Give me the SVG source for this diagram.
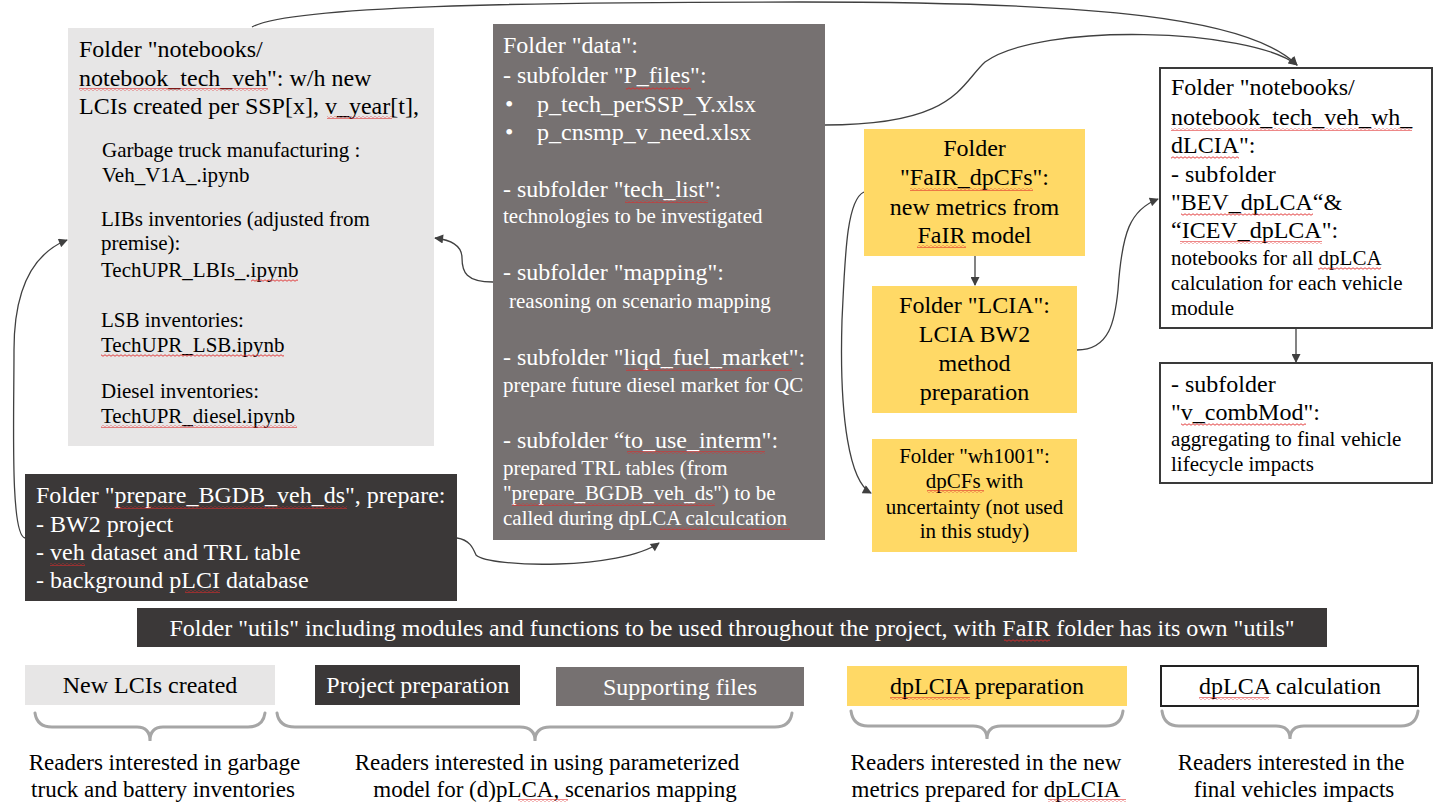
<svg xmlns="http://www.w3.org/2000/svg" width="1436" height="803" viewBox="0 0 1436 803">
<defs>
<marker id="ah" viewBox="0 0 10 10" refX="9" refY="5" markerWidth="11" markerHeight="9" markerUnits="userSpaceOnUse" orient="auto"><path d="M0,0 L10,5 L0,10 z" fill="#404040"/></marker>
<pattern id="wv" width="4" height="3" patternUnits="userSpaceOnUse"><path d="M0,1.5 Q1,0 2,1.5 T4,1.5" fill="none" stroke="#e02a2a" stroke-width="0.9"/></pattern>
<style>
text{font-family:"Liberation Serif","Times New Roman",serif;}
.b{font-size:24px;}
.s{font-size:21px;}
.k{fill:#000;}
.w{fill:#fff;}
.c{text-anchor:middle;}
.con{fill:none;stroke:#404040;stroke-width:1.3;}
.brace{fill:none;stroke:#a6a6a6;stroke-width:3;stroke-linecap:round;}
.sq{fill:url(#wv);}
</style>
</defs>
<rect width="1436" height="803" fill="#fff"/>

<g id="connectors">
<path class="con" d="M252,27 C290,6 520,2 800,2 C1100,2 1250,18 1297,65" marker-end="url(#ah)"/>
<path class="con" d="M825,125 C955,125 960,85 985,62 C1040,22 1250,28 1297,65" marker-end="url(#ah)"/>
<path class="con" d="M493,282 C466,282 462,272 462,258 C462,246 452,240 435,238" marker-end="url(#ah)"/>
<path class="con" d="M457,538 C470,540 473,548 476,555 C490,568 620,570 659,543" marker-end="url(#ah)"/>
<path class="con" d="M25,538 C10,535 14,420 14,350 C14,290 32,254 67,240" marker-end="url(#ah)"/>
<path class="con" d="M864,192 C846,200 845,260 842,320 C839,420 850,482 871,493" marker-end="url(#ah)"/>
<path class="con" d="M1077,350 C1110,350 1115,320 1118,290 C1122,232 1130,210 1158,199" marker-end="url(#ah)"/>
<path class="con" d="M975,256 L975,285" marker-end="url(#ah)"/>
<path class="con" d="M1296,328 L1296,362" marker-end="url(#ah)"/>
</g>

<g id="node-notebooks-tech-veh">
<rect x="68" y="28" width="366" height="418" fill="#e7e6e6"/>
<text class="b k" x="79" y="57">Folder "notebooks/</text>
<text class="b k" x="79" y="85.5">notebook_tech_veh": w/h new</text>
<text class="b k" x="79" y="114">LCIs created per SSP[x], v_year[t],</text>
<text class="s k" x="102" y="157">Garbage truck manufacturing :</text>
<text class="s k" x="102" y="182">Veh_V1A_.ipynb</text>
<text class="s k" x="101" y="226">LIBs inventories (adjusted from</text>
<text class="s k" x="101" y="250">premise):</text>
<text class="s k" x="101" y="277">TechUPR_LBIs_.ipynb</text>
<text class="s k" x="101" y="327">LSB inventories:</text>
<text class="s k" x="101" y="352">TechUPR_LSB.ipynb</text>
<text class="s k" x="101" y="398">Diesel inventories:</text>
<text class="s k" x="101" y="423">TechUPR_diesel.ipynb</text>
<rect class="sq" x="79" y="88" width="189" height="3"/>
<rect class="sq" x="327" y="116" width="65" height="3"/>
<rect class="sq" x="251" y="279" width="47" height="3"/>
<rect class="sq" x="101" y="354" width="183" height="3"/>
<rect class="sq" x="101" y="425" width="196" height="3"/>
</g>

<g id="node-data">
<rect x="493" y="24" width="332" height="516" fill="#767171"/>
<text class="b w" x="503" y="53">Folder "data":</text>
<text class="b w" x="503" y="83">- subfolder "P_files":</text>
<text class="b w" x="505" y="112">•</text><text class="b w" x="537" y="112">p_tech_perSSP_Y.xlsx</text>
<text class="b w" x="505" y="140">•</text><text class="b w" x="537" y="140">p_cnsmp_v_need.xlsx</text>
<text class="b w" x="503" y="197">- subfolder "tech_list":</text>
<text class="s w" x="503" y="223">technologies to be investigated</text>
<text class="b w" x="503" y="280">- subfolder "mapping":</text>
<text class="s w" x="509" y="308">reasoning on scenario mapping</text>
<text class="b w" x="503" y="365">- subfolder "liqd_fuel_market":</text>
<text class="s w" x="503" y="392">prepare future diesel market for QC</text>
<text class="b w" x="503" y="448">- subfolder “to_use_interm":</text>
<text class="s w" x="503" y="475">prepared TRL tables (from</text>
<text class="s w" x="503" y="500">"prepare_BGDB_veh_ds") to be</text>
<text class="s w" x="503" y="525">called during dpLCA calculcation</text>
<rect class="sq" x="626" y="87" width="65" height="3"/>
<rect class="sq" x="625" y="200" width="83" height="3"/>
<rect class="sq" x="626" y="368" width="166" height="3"/>
<rect class="sq" x="627" y="451" width="138" height="3"/>
<rect class="sq" x="512" y="503" width="203" height="3"/>
<rect class="sq" x="660" y="527" width="47" height="3"/>
<rect class="sq" x="710" y="527" width="80" height="3"/>
</g>

<g id="node-prepare">
<rect x="25" y="474" width="432" height="127" fill="#3b3838"/>
<text class="b w" x="36" y="503">Folder "prepare_BGDB_veh_ds", prepare:</text>
<text class="b w" x="36" y="532">- BW2 project</text>
<text class="b w" x="36" y="560">- veh dataset and TRL table</text>
<text class="b w" x="36" y="588">- background pLCI database</text>
<rect class="sq" x="115" y="506" width="232" height="3"/>
<rect class="sq" x="50" y="563" width="35" height="3"/>
<rect class="sq" x="185" y="590" width="35" height="3"/>
</g>

<g id="node-fair">
<rect x="864" y="129" width="221" height="127" fill="#ffd966"/>
<text class="b k c" x="974.5" y="156">Folder</text>
<text class="b k c" x="974.5" y="185">"FaIR_dpCFs":</text>
<text class="b k c" x="974.5" y="215">new metrics from</text>
<text class="b k c" x="974.5" y="243">FaIR model</text>
<rect class="sq" x="910" y="188" width="123" height="3"/>
<rect class="sq" x="917" y="245" width="49" height="3"/>
</g>

<g id="node-lcia">
<rect x="872" y="286" width="205" height="127" fill="#ffd966"/>
<text class="b k c" x="974.5" y="313">Folder "LCIA":</text>
<text class="b k c" x="974.5" y="342">LCIA BW2</text>
<text class="b k c" x="974.5" y="371">method</text>
<text class="b k c" x="974.5" y="400">preparation</text>
</g>

<g id="node-wh1001">
<rect x="872" y="439" width="205" height="113" fill="#ffd966"/>
<text class="s k c" x="974.5" y="463">Folder "wh1001":</text>
<text class="s k c" x="974.5" y="488">dpCFs with</text>
<text class="s k c" x="974.5" y="514">uncertainty (not used</text>
<text class="s k c" x="974.5" y="538">in this study)</text>
<rect class="sq" x="927" y="490" width="57" height="3"/>
</g>

<g id="node-dlcia">
<rect x="1160" y="68" width="272" height="260" fill="#fff" stroke="#3a3a3a" stroke-width="2"/>
<text class="b k" x="1171" y="95">Folder "notebooks/</text>
<text class="b k" x="1171" y="125">notebook_tech_veh_wh_</text>
<text class="b k" x="1171" y="153">dLCIA":</text>
<text class="b k" x="1171" y="182">- subfolder</text>
<text class="b k" x="1171" y="210">"BEV_dpLCA“&amp;</text>
<text class="b k" x="1171" y="238">“ICEV_dpLCA":</text>
<text class="s k" x="1171" y="265">notebooks for all dpLCA</text>
<text class="s k" x="1171" y="290">calculation for each vehicle</text>
<text class="s k" x="1171" y="315">module</text>
<rect class="sq" x="1171" y="128" width="241" height="3"/>
<rect class="sq" x="1171" y="156" width="68" height="3"/>
<rect class="sq" x="1181" y="213" width="132" height="3"/>
<rect class="sq" x="1180" y="241" width="142" height="3"/>
<rect class="sq" x="1318" y="267" width="63" height="3"/>
</g>

<g id="node-combmod">
<rect x="1160" y="363" width="272" height="120" fill="#fff" stroke="#3a3a3a" stroke-width="2"/>
<text class="b k" x="1171" y="392">- subfolder</text>
<text class="b k" x="1171" y="420">"v_combMod":</text>
<text class="s k" x="1171" y="446">aggregating to final vehicle</text>
<text class="s k" x="1171" y="471">lifecycle impacts</text>
<rect class="sq" x="1181" y="423" width="125" height="3"/>
</g>

<g id="node-utils">
<rect x="137" y="608" width="1190" height="39" fill="#3b3838"/>
<text class="w c" x="732" y="636" style="font-size:24px">Folder "utils" including modules and functions to be used throughout the project, with FaIR folder has its own "utils"</text>
<rect class="sq" x="1004" y="639" width="46" height="3"/>
</g>

<g id="legend">
<rect x="25" y="665" width="250" height="40" fill="#e7e6e6"/>
<text class="k c" x="150" y="693" style="font-size:24px">New LCIs created</text>
<rect x="315" y="665" width="205" height="40" fill="#3b3838"/>
<text class="w c" x="418" y="693" style="font-size:24px">Project preparation</text>
<rect x="556" y="667" width="248" height="39" fill="#767171"/>
<text class="w c" x="680" y="695" style="font-size:24px">Supporting files</text>
<rect x="847" y="666" width="280" height="40" fill="#ffd966"/>
<text class="k c" x="987" y="694" style="font-size:24px">dpLCIA preparation</text>
<rect x="1161" y="666" width="257" height="40" fill="#fff" stroke="#222" stroke-width="2"/>
<text class="k c" x="1290" y="694" style="font-size:24px">dpLCA calculation</text>
<rect class="sq" x="890" y="697" width="80" height="3"/>
<rect class="sq" x="1199" y="697" width="70" height="3"/>
</g>

<g id="braces">
<path class="brace" d="M35,713 Q37,727 52,727 L137,727 Q150,727 150,741 Q150,727 163,727 L248,727 Q263,727 265,713"/>
<path class="brace" d="M277,713 Q279,727 295,727 L520,727 Q535,727 535,741 Q535,727 550,727 L775,727 Q790,727 792,713"/>
<path class="brace" d="M851,711 Q853,726 868,726 L973,726 Q987,726 987,739 Q987,726 1001,726 L1106,726 Q1121,726 1123,711"/>
<path class="brace" d="M1162,711 Q1164,726 1179,726 L1276,726 Q1290,726 1290,739 Q1290,726 1304,726 L1401,726 Q1416,726 1418,711"/>
</g>

<g id="audience-notes">
<text class="k c" x="164.5" y="770" style="font-size:23px">Readers interested in garbage</text>
<text class="k c" x="163" y="797" style="font-size:23px">truck and battery inventories</text>
<text class="k c" x="547" y="770" style="font-size:23px">Readers interested in using parameterized</text>
<text class="k c" x="555" y="797" style="font-size:23px">model for (d)pLCA, scenarios mapping</text>
<text class="k c" x="986" y="770" style="font-size:23px">Readers interested in the new</text>
<text class="k c" x="986" y="797" style="font-size:23px">metrics prepared for dpLCIA</text>
<text class="k c" x="1291" y="770" style="font-size:23px">Readers interested in the</text>
<text class="k c" x="1294" y="797" style="font-size:23px">final vehicles impacts</text>
<rect class="sq" x="518" y="799" width="50" height="3"/>
<rect class="sq" x="1048" y="799" width="78" height="3"/>
</g>
</svg>
